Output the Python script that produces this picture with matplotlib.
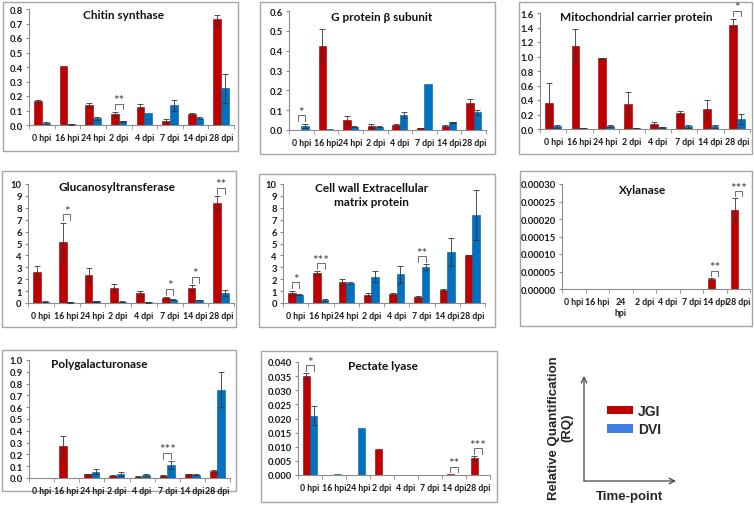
import numpy as np
import matplotlib
matplotlib.use("Agg")
import matplotlib.pyplot as plt
from matplotlib.patches import Rectangle, Patch
from matplotlib.ticker import MultipleLocator, FixedLocator

plt.rcParams['font.family'] = ['Lato', 'DejaVu Sans']

# ---------------- data ----------------
categories = ['0 hpi', '16 hpi', '24 hpi', '2 dpi', '4 dpi', '7 dpi', '14 dpi', '28 dpi']
categories_xyl = ['0 hpi', '16 hpi', '24\nhpi', '2 dpi', '4 dpi', '7 dpi', '14 dpi', '28 dpi']

chitin_jgi = [0.165, 0.405, 0.138, 0.078, 0.125, 0.030, 0.075, 0.730]
chitin_jgi_err = [0.005, 0.0, 0.017, 0.013, 0.020, 0.012, 0.008, 0.030]
chitin_dvi = [0.015, 0.006, 0.045, 0.025, 0.080, 0.135, 0.048, 0.255]
chitin_dvi_err = [0.006, 0.003, 0.013, 0.003, 0.0, 0.040, 0.010, 0.100]
chitin_sig = {3: '**'}

gprot_jgi = [0.0, 0.425, 0.050, 0.022, 0.025, 0.010, 0.020, 0.135]
gprot_jgi_err = [0.0, 0.083, 0.020, 0.010, 0.005, 0.002, 0.003, 0.020]
gprot_dvi = [0.022, 0.005, 0.017, 0.016, 0.075, 0.230, 0.038, 0.090]
gprot_dvi_err = [0.010, 0.0, 0.002, 0.002, 0.015, 0.0, 0.004, 0.012]
gprot_sig = {0: '*'}

mito_jgi = [0.36, 1.15, 0.975, 0.35, 0.075, 0.215, 0.27, 1.44]
mito_jgi_err = [0.27, 0.23, 0.005, 0.16, 0.02, 0.03, 0.13, 0.08]
mito_dvi = [0.035, 0.015, 0.040, 0.010, 0.025, 0.035, 0.035, 0.140]
mito_dvi_err = [0.015, 0.003, 0.010, 0.002, 0.005, 0.020, 0.020, 0.070]
mito_sig = {7: '*'}

gluc_jgi = [2.6, 5.15, 2.35, 1.3, 0.8, 0.45, 1.3, 8.4]
gluc_jgi_err = [0.55, 1.6, 0.55, 0.3, 0.2, 0.05, 0.2, 0.6]
gluc_dvi = [0.12, 0.05, 0.15, 0.12, 0.05, 0.28, 0.25, 0.85]
gluc_dvi_err = [0.03, 0.01, 0.03, 0.02, 0.02, 0.03, 0.03, 0.25]
gluc_sig = {1: '*', 5: '*', 6: '*', 7: '**'}

cell_jgi = [0.85, 2.55, 1.8, 0.7, 0.75, 0.5, 1.1, 4.0]
cell_jgi_err = [0.2, 0.1, 0.25, 0.1, 0.05, 0.1, 0.1, 0.05]
cell_dvi = [0.7, 0.25, 1.7, 2.2, 2.4, 3.0, 4.3, 7.4]
cell_dvi_err = [0.03, 0.05, 0.1, 0.45, 0.75, 0.25, 1.15, 2.1]
cell_sig = {0: '*', 1: '***', 5: '**'}

xyl_jgi = [0, 0, 0, 0, 0, 0, 0.000028, 0.000226]
xyl_jgi_err = [0, 0, 0, 0, 0, 0, 0.000003, 0.000033]
xyl_dvi = [0, 0, 0, 0, 0, 0, 0, 0]
xyl_dvi_err = [0, 0, 0, 0, 0, 0, 0, 0]
xyl_sig = {6: '**', 7: '***'}

poly_jgi = [0.0, 0.275, 0.030, 0.020, 0.012, 0.020, 0.030, 0.062]
poly_jgi_err = [0.0, 0.085, 0.008, 0.005, 0.005, 0.003, 0.003, 0.008]
poly_dvi = [0.0, 0.0, 0.055, 0.033, 0.025, 0.110, 0.028, 0.750]
poly_dvi_err = [0.0, 0.0, 0.025, 0.020, 0.010, 0.035, 0.005, 0.150]
poly_sig = {5: '***'}

pect_jgi = [0.035, 0.0, 0.0, 0.0093, 0.0, 0.0, 0.0002, 0.006]
pect_jgi_err = [0.001, 0, 0, 0, 0, 0, 0, 0.0007]
pect_dvi = [0.021, 0.0004, 0.0167, 0.0, 0.0, 0.0, 0.0, 0.0]
pect_dvi_err = [0.0033, 0, 0, 0, 0, 0, 0, 0]
pect_sig = {0: '*', 6: '**', 7: '***'}

series_names = ['JGI', 'DVI']

# ---------------- style ----------------
RED = '#C00000'
RED_EDGE = '#8E0000'
BLUE = '#0070C0'
BLUE_EDGE = '#005A9A'
LEG_BLUE = '#3F7FE4'
AXCOL = '#8C8C8C'
W, H = 754, 506

fig = plt.figure(figsize=(W / 100, H / 100), dpi=100)

bg = fig.add_axes([0, 0, 1, 1], zorder=-10)
bg.set_xlim(0, W)
bg.set_ylim(H, 0)
bg.axis('off')

boxes = [(3, 3, 238, 152), (260, 3, 495, 155), (519, 3, 752, 155),
         (2, 172, 236, 328), (259, 175, 495, 328), (520, 172, 752, 327),
         (2, 351, 236, 492), (261, 352, 497, 503)]
for (x0, y0, x1, y1) in boxes:
    bg.add_patch(Rectangle((x0, y0), x1 - x0, y1 - y0, fill=False,
                           edgecolor='#A6A6A6', lw=1.0))


def add_ax(x0, x1, ytop, ybot):
    return fig.add_axes([x0 / W, 1 - ybot / H, (x1 - x0) / W, (ybot - ytop) / H])


def panel(ax, title, txy, jgi, jgi_err, dvi, dvi_err, ymax, step, fmt, sig,
          labels=categories, tsize=8.5):
    x = np.arange(len(labels))
    jgi = np.array(jgi, float)
    dvi = np.array(dvi, float)
    je = np.array(jgi_err, float)
    de = np.array(dvi_err, float)
    bw = 0.3
    ax.bar(x - bw / 2, jgi, bw, color=RED, edgecolor=RED_EDGE, linewidth=0.4, zorder=2)
    ax.bar(x + bw / 2, dvi, bw, color=BLUE, edgecolor=BLUE_EDGE, linewidth=0.4, zorder=2)
    ekw = dict(fmt='none', ecolor='#333333', elinewidth=0.6, capsize=2, capthick=0.6, zorder=3)
    m = je > 0
    ax.errorbar((x - bw / 2)[m], jgi[m], yerr=je[m], **ekw)
    m = de > 0
    ax.errorbar((x + bw / 2)[m], dvi[m], yerr=de[m], **ekw)

    for i, s in sig.items():
        top = max(jgi[i] + je[i], dvi[i] + de[i])
        hb = top + 0.07 * ymax
        leg = 0.05 * ymax
        xs = [i - bw / 2, i - bw / 2, i + bw / 2, i + bw / 2]
        ys = [hb - leg, hb, hb, hb - leg]
        ax.plot(xs, ys, color='#555555', lw=0.6, clip_on=False, zorder=4)
        ax.text(i, hb - 0.005 * ymax, s, ha='center', va='baseline', fontsize=9.5,
                color='#444444', clip_on=False)

    ax.set_xlim(-0.5, len(labels) - 0.5)
    ax.set_ylim(0, ymax)
    ax.yaxis.set_major_locator(MultipleLocator(step))
    ax.yaxis.set_major_formatter(plt.FuncFormatter(lambda v, p: fmt.format(v)))
    ax.set_xticks(x)
    ax.set_xticklabels(labels)
    ax.xaxis.set_minor_locator(FixedLocator(np.arange(-0.5, len(labels), 1.0)))
    ax.tick_params(axis='x', which='major', length=0, pad=6, labelsize=6.3)
    ax.tick_params(axis='x', which='minor', length=3, color=AXCOL, direction='out')
    ax.tick_params(axis='y', length=2.5, color=AXCOL, labelsize=6.8, pad=2)
    for lab in ax.get_xticklabels() + ax.get_yticklabels():
        lab.set_fontweight('bold')
        lab.set_color('#1a1a1a')
    for sp in ['top', 'right']:
        ax.spines[sp].set_visible(False)
    for sp in ['left', 'bottom']:
        ax.spines[sp].set_color(AXCOL)
        ax.spines[sp].set_linewidth(0.8)
    ax.set_facecolor('none')
    ax.text(txy[0], txy[1], title, transform=ax.transAxes, ha='center', va='center',
            fontsize=tsize, fontweight='bold', color='#111111', linespacing=1.3)


a1 = add_ax(29, 234, 10, 126)
panel(a1, 'Chitin synthase', (0.46, 0.95), chitin_jgi, chitin_jgi_err, chitin_dvi,
      chitin_dvi_err, 0.8, 0.1, '{:.1f}', chitin_sig)

a2 = add_ax(289, 486, 12, 131)
panel(a2, 'G protein β subunit', (0.47, 0.95), gprot_jgi, gprot_jgi_err, gprot_dvi,
      gprot_dvi_err, 0.6, 0.1, '{:.1f}', gprot_sig)

a3 = add_ax(540, 750, 14, 130)
panel(a3, 'Mitochondrial carrier protein', (0.46, 0.97), mito_jgi, mito_jgi_err, mito_dvi,
      mito_dvi_err, 1.6, 0.2, '{:.1f}', mito_sig)

a4 = add_ax(28, 234, 185, 304)
panel(a4, 'Glucanosyltransferase', (0.43, 0.975), gluc_jgi, gluc_jgi_err, gluc_dvi,
      gluc_dvi_err, 10, 1, '{:.0f}', gluc_sig)

a5 = add_ax(283, 485, 185, 304)
panel(a5, 'Cell wall Extracellular\nmatrix protein', (0.44, 0.91), cell_jgi, cell_jgi_err,
      cell_dvi, cell_dvi_err, 10, 1, '{:.0f}', cell_sig)

a6 = add_ax(562, 750, 185, 290)
panel(a6, 'Xylanase', (0.43, 0.95), xyl_jgi, xyl_jgi_err, xyl_dvi, xyl_dvi_err,
      0.0003, 0.00005, '{:.5f}', xyl_sig, labels=categories_xyl)

a7 = add_ax(29, 230, 361, 479)
panel(a7, 'Polygalacturonase', (0.35, 0.97), poly_jgi, poly_jgi_err, poly_dvi, poly_dvi_err,
      1.0, 0.1, '{:.1f}', poly_sig)

a8 = add_ax(298, 490, 363, 476)
panel(a8, 'Pectate lyase', (0.44, 0.965), pect_jgi, pect_jgi_err, pect_dvi, pect_dvi_err,
      0.040, 0.005, '{:.3f}', pect_sig)

# ---------------- legend panel ----------------
arrow_kw = dict(arrowstyle='->', color='#444444', lw=0.9, shrinkA=0, shrinkB=0)
bg.annotate('', xy=(584, 377), xytext=(584, 482), arrowprops=arrow_kw)
bg.annotate('', xy=(676, 482), xytext=(584, 482), arrowprops=arrow_kw)
bg.text(561, 428, 'Relative Quantification\n(RQ)', rotation=90, ha='center', va='center',
        fontsize=9.5, fontweight='bold', family=['Liberation Sans', 'DejaVu Sans'],
        color='#262626', linespacing=1.15)
bg.text(630, 497, 'Time-point', ha='center', va='center', fontsize=9.5, fontweight='bold',
        family=['Liberation Sans', 'DejaVu Sans'], color='#262626')

handles = [Patch(facecolor=RED, edgecolor='none'), Patch(facecolor=LEG_BLUE, edgecolor='none')]
leg = fig.legend(handles, series_names, loc='center left',
                 bbox_to_anchor=(594 / W, 1 - 421 / H), frameon=False,
                 handlelength=1.9, handleheight=0.6, labelspacing=0.3, handletextpad=0.35,
                 prop=dict(family=['Liberation Sans', 'DejaVu Sans'], weight='bold', size=10))
for t in leg.get_texts():
    t.set_color('#262626')

fig.savefig('out.png', dpi=100)
